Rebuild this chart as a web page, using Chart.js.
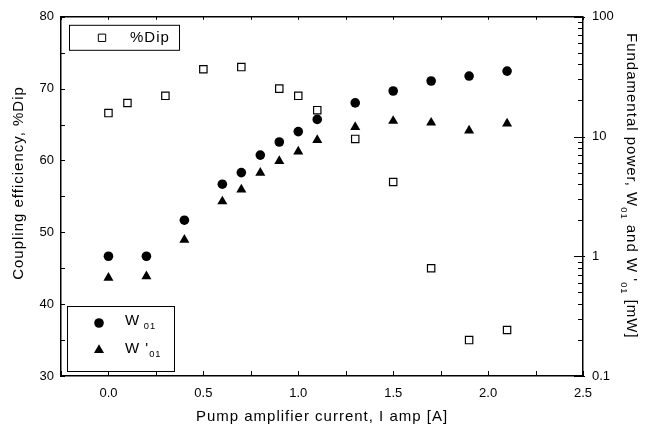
<!DOCTYPE html>
<html>
<head>
<meta charset="utf-8">
<script src="https://cdn.jsdelivr.net/npm/chart.js@4.4.1/dist/chart.umd.min.js"></script>
<style>
html, body { margin: 0; padding: 0; background: #fff; }
#wrap { width: 656px; height: 431px; }
</style>
</head>
<body>
<div id="wrap"><canvas id="chart" width="656" height="431"></canvas></div>
<script>
// %Dip (left axis)
const currentDip = [0.0, 0.1, 0.3, 0.5, 0.7, 0.9, 1.0, 1.1, 1.3, 1.5, 1.7, 1.9, 2.1];
const dipValues = [66.6, 68.0, 69.0, 72.7, 73.0, 70.0, 69.0, 67.0, 63.0, 57.0, 45.0, 35.0, 36.4];
// fundamental power [mW] (right log axis)
const currentW = [0.0, 0.2, 0.4, 0.6, 0.7, 0.8, 0.9, 1.0, 1.1, 1.3, 1.5, 1.7, 1.9, 2.1];
const w01 = [1.0, 1.0, 2.0, 4.0, 5.0, 7.0, 9.0, 11.0, 13.9, 19.1, 24.0, 29.1, 32.0, 35.2];
const w01p = [0.66, 0.68, 1.37, 2.87, 3.6, 4.97, 6.23, 7.5, 9.35, 12.0, 13.5, 13.05, 11.2, 12.85];

const xTicks = [0, 0.5, 1.0, 1.5, 2.0, 2.5];
const leftTicks = [30, 40, 50, 60, 70, 80];
const rightTicks = [0.1, 1, 10, 100];

const family = "'Liberation Sans', Arial, sans-serif";
Chart.defaults.font.family = family;
Chart.defaults.color = '#000';

function pts(xs, ys) {
    return xs.map((x, i) => ({x: x, y: ys[i]}));
}

// draws text pieces, sub = lowered smaller text
function drawRich(ctx, parts, x, y, size) {
    parts.forEach(p => {
        ctx.font = (p.sub ? size * 0.62 : size) + 'px ' + family;
        ctx.fillText(p.t, x, p.sub ? y + size * 0.38 : y);
        x += ctx.measureText(p.t).width;
    });
}

function marker(ctx, style, r, x, y) {
    ctx.fillStyle = style === 'rect' ? '#fff' : '#000';
    ctx.strokeStyle = '#000';
    Chart.helpers.drawPoint(ctx, {pointStyle: style, radius: r, rotation: 0, borderWidth: style === 'rect' ? 1.2 : 0}, x, y);
}

const decor = {
    id: 'decor',
    afterDraw(chart) {
        const ctx = chart.ctx;
        const a = chart.chartArea;
        const sx = chart.scales.x, sl = chart.scales.y, sr = chart.scales.y2;
        ctx.save();
        ctx.strokeStyle = '#000';
        ctx.lineWidth = 1.5;
        ctx.beginPath();
        ctx.moveTo(a.left, a.top);
        ctx.lineTo(a.right, a.top);
        ctx.stroke();

        // inward ticks
        ctx.lineWidth = 1;
        ctx.beginPath();
        for (let v = -0.25; v <= 2.501; v += 0.25) {
            const px = Math.round(sx.getPixelForValue(v)) + 0.5;
            ctx.moveTo(px, a.bottom); ctx.lineTo(px, a.bottom - 5);
            ctx.moveTo(px, a.top); ctx.lineTo(px, a.top + 3);
        }
        for (let v = 30; v <= 80; v += 5) {
            const py = Math.round(sl.getPixelForValue(v)) + 0.5;
            ctx.moveTo(a.left, py); ctx.lineTo(a.left + 4, py);
        }
        rightTicks.forEach((d, i) => {
            const py = Math.round(sr.getPixelForValue(d)) + 0.5;
            ctx.moveTo(a.right + 2, py); ctx.lineTo(a.right - 9, py);
            if (i < rightTicks.length - 1) {
                for (let k = 2; k <= 9; k++) {
                    const pm = Math.round(sr.getPixelForValue(d * k)) + 0.5;
                    ctx.moveTo(a.right, pm); ctx.lineTo(a.right - 5, pm);
                }
            }
        });
        ctx.stroke();

        // legend boxes
        ctx.fillStyle = '#fff';
        ctx.lineWidth = 1;
        ctx.fillRect(a.left + 8, a.top + 8, 110, 25);
        ctx.strokeRect(a.left + 8.5, a.top + 8.5, 110, 25);
        ctx.fillRect(a.left + 6, a.bottom - 70, 107, 65);
        ctx.strokeRect(a.left + 6.5, a.bottom - 69.5, 107, 65);

        ctx.textBaseline = 'middle';
        ctx.textAlign = 'left';
        ctx.letterSpacing = '1px';
        marker(ctx, 'rect', 5.2, a.left + 41, a.top + 21);
        ctx.fillStyle = '#000';
        ctx.font = '15px ' + family;
        ctx.fillText('%Dip', a.left + 69, a.top + 21);

        marker(ctx, 'circle', 4.8, a.left + 38, a.bottom - 53);
        marker(ctx, 'triangle', 5.8, a.left + 38, a.bottom - 26);
        ctx.fillStyle = '#000';
        drawRich(ctx, [{t: 'W'}, {t: ' 01', sub: true}], a.left + 64, a.bottom - 55, 15);
        drawRich(ctx, [{t: "W '"}, {t: '01', sub: true}], a.left + 64, a.bottom - 27, 15);

        // axis titles
        ctx.textAlign = 'center';
        ctx.font = '15px ' + family;
        ctx.fillText('Pump amplifier current, I amp [A]', (a.left + a.right) / 2, 417);

        ctx.save();
        ctx.translate(19, 183);
        ctx.rotate(-Math.PI / 2);
        ctx.fillText('Coupling efficiency, %Dip', 0, 0);
        ctx.restore();

        ctx.save();
        ctx.translate(627, 33);
        ctx.rotate(Math.PI / 2);
        ctx.textAlign = 'left';
        ctx.textBaseline = 'alphabetic';
        drawRich(ctx, [
            {t: 'Fundamental power, W'}, {t: '01', sub: true},
            {t: " and W '"}, {t: '01', sub: true}, {t: ' [mW]'}
        ], 0, 0, 15);
        ctx.restore();

        ctx.restore();
    }
};

new Chart(document.getElementById('chart'), {
    type: 'scatter',
    data: {
        datasets: [{
            label: '%Dip',
            data: pts(currentDip, dipValues),
            yAxisID: 'y',
            pointStyle: 'rect',
            pointRadius: 5.2,
            backgroundColor: '#fff',
            borderColor: '#000',
            borderWidth: 1.2
        }, {
            label: 'W01',
            data: pts(currentW, w01),
            yAxisID: 'y2',
            pointStyle: 'circle',
            pointRadius: 4.8,
            backgroundColor: '#000',
            borderColor: '#000',
            borderWidth: 0
        }, {
            label: "W'01",
            data: pts(currentW, w01p),
            yAxisID: 'y2',
            pointStyle: 'triangle',
            pointRadius: 5.8,
            backgroundColor: '#000',
            borderColor: '#000',
            borderWidth: 0
        }]
    },
    options: {
        responsive: false,
        animation: false,
        layout: {padding: {top: 14, left: 0, right: 0, bottom: 0}},
        plugins: {legend: {display: false}, tooltip: {enabled: false}},
        scales: {
            x: {
                type: 'linear', min: -0.25, max: 2.5,
                afterBuildTicks: s => { s.ticks = xTicks.map(v => ({value: v})); },
                afterFit: s => { s.height = 55; },
                grid: {display: false, drawTicks: false},
                border: {display: true, color: '#000', width: 1.5},
                ticks: {font: {size: 13}, padding: 10, callback: v => v.toFixed(1)}
            },
            y: {
                type: 'linear', position: 'left', min: 30, max: 80,
                afterBuildTicks: s => { s.ticks = leftTicks.map(v => ({value: v})); },
                afterFit: s => { s.width = 61; },
                grid: {display: false, drawTicks: false},
                border: {display: true, color: '#000', width: 1.5},
                ticks: {font: {size: 13}, padding: 7}
            },
            y2: {
                type: 'logarithmic', position: 'right', min: 0.1, max: 100,
                afterBuildTicks: s => { s.ticks = rightTicks.map(v => ({value: v})); },
                afterFit: s => { s.width = 73; },
                grid: {display: false, drawTicks: false},
                border: {display: true, color: '#000', width: 1.5},
                ticks: {font: {size: 13}, padding: 9, callback: v => String(v)}
            }
        }
    },
    plugins: [decor]
});
</script>
</body>
</html>
